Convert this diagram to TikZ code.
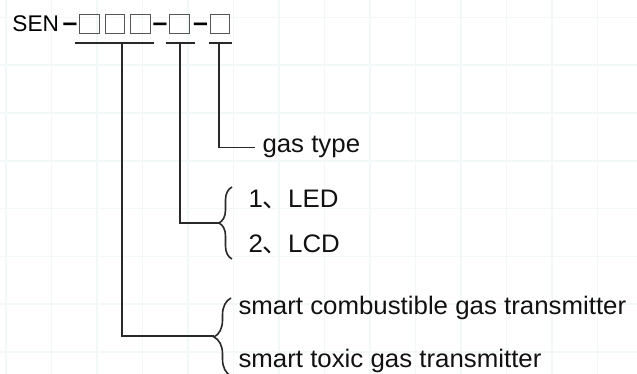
\documentclass[tikz,border=0pt]{standalone}
\usepackage{fontspec}
\setmainfont{Liberation Sans}
\newfontfamily\widefont[FakeStretch=1.02]{Liberation Sans}
\newfontfamily\cjkfont{Noto Sans CJK SC}
\usetikzlibrary{calc,decorations.pathreplacing}

\definecolor{gridcol}{RGB}{242,247,247}
\definecolor{linecol}{RGB}{40,40,40}
\definecolor{boxcol}{RGB}{85,85,85}

\tikzset{every picture/.style={line width=0.75pt}}
\tikzset{
  gridline/.style={draw=gridcol, line width=1.2pt},
  codebox/.style={draw=boxcol, line width=0.9pt, minimum width=14.6pt, minimum height=13.8pt, inner sep=0pt},
  codetext/.style={anchor=base, inner sep=0pt, font=\fontsize{17}{20}\selectfont},
  dashtext/.style={anchor=base, inner sep=0pt, font=\fontsize{20}{20}\selectfont\bfseries},
  lbl/.style={anchor=base west, inner sep=0pt, text={rgb,255:red,17;green,17;blue,17}, font=\widefont\fontsize{19}{22}\selectfont},
  link/.style={draw=linecol, line width=1.25pt},
  curly/.style={draw=linecol, line width=1.2pt, decorate, decoration={brace, amplitude=#1}}
}

\begin{document}
\begin{tikzpicture}[x=0.75pt,y=0.75pt,yscale=-1,xscale=1]
\useasboundingbox (0,0) rectangle (637,374);

% Grid
\foreach \gx in {0,...,13} \draw[gridline] ({6+45.5*\gx},0) -- ({6+45.5*\gx},374);
\foreach \gy in {0,...,7} \draw[gridline] (0,{17.5+47.8*\gy}) -- (637,{17.5+47.8*\gy});

% Text Node
\node[codetext, anchor=base west] (sen) at (12,32) {SEN};
\node[dashtext] (d1) at (70,32) {–};
\node[codebox] (b1) at (89.5,24) {};
\node[codebox] (b2) at (115,24) {};
\node[codebox] (b3) at (140.5,24) {};
\node[dashtext] (d2) at (160,32) {–};
\node[codebox] (b4) at (179.5,24) {};
\node[dashtext] (d3) at (200.5,32) {–};
\node[codebox] (b5) at (220,24) {};

% Underlines
\draw[link] ($(b1.south west)+(-4,9)$) -- ($(b3.south east)+(3,9)$);
\draw[link] ($(b4.south west)+(-3,9)$) -- ($(b4.south east)+(5,9)$);
\draw[link] ($(b5.south west)+(-1,9)$) -- ($(b5.south east)+(2,9)$);
\coordinate (t1) at (122,42);
\coordinate (t2) at (180,42);
\coordinate (t3) at (219,42);

% Labels
\node[lbl] (gastype) at (262,153) {gas type};
\node[lbl] (led) at (248,208) {1{\cjkfont 、}LED};
\node[lbl] (lcd) at (248,253) {2{\cjkfont 、}LCD};
\node[lbl] (comb) at (238,315) {smart combustible gas transmitter};
\node[lbl] (toxic) at (238,368) {smart toxic gas transmitter};

% Braces
\coordinate (ledtip) at (219,223);
\coordinate (combtip) at (214,336);
\draw[curly=9.75pt] (232,259) -- (232,187);
\draw[curly=12.75pt] (231,376) -- (231,298);

% Connection
\draw[link] (t3) |- ($(gastype.west)+(-7,0)$);
\draw[link] (t2) |- (ledtip);
\draw[link] (t1) |- (combtip);

\end{tikzpicture}
\end{document}
